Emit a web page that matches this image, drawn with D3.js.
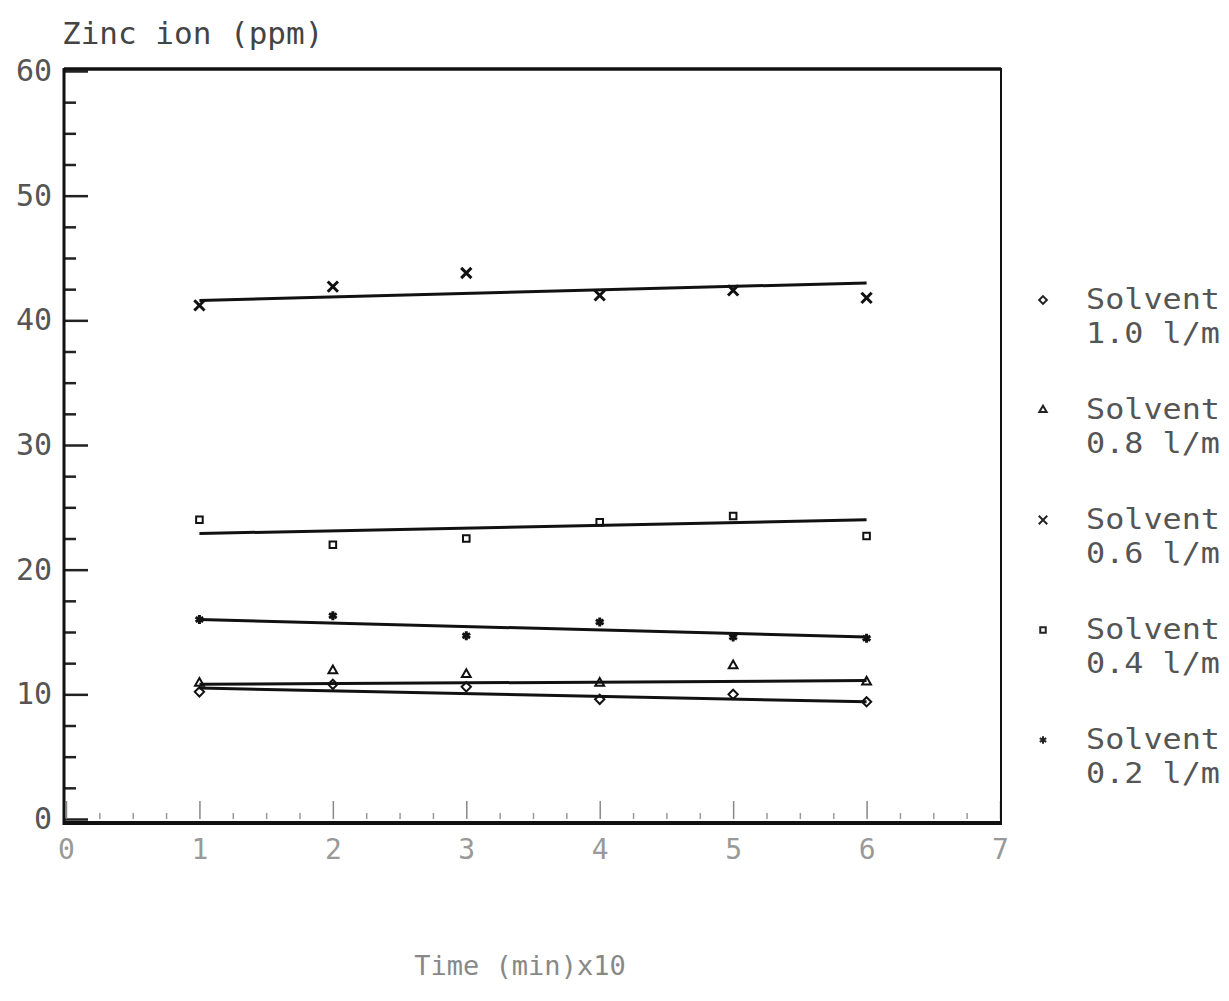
<!DOCTYPE html>
<html>
<head>
<meta charset="utf-8">
<script src="https://cdn.jsdelivr.net/npm/d3@7"></script>
<style>
  body { margin: 0; background: #fff; }
  text { font-family: "DejaVu Sans Mono", monospace; }
</style>
</head>
<body>
<div id="container"></div>
<script>
"use strict";

// Values (Time in min x10, Zinc ion in ppm).
const times = [1, 2, 3, 4, 5, 6];
const solvent10 = [10.2, 10.8, 10.6, 9.6, 10.0, 9.4];
const solvent08 = [10.9, 11.9, 11.6, 10.9, 12.3, 11.0];
const solvent06 = [41.2, 42.7, 43.8, 42.0, 42.4, 41.8];
const solvent04 = [24.0, 22.0, 22.5, 23.8, 24.3, 22.7];
const solvent02 = [16.0, 16.3, 14.7, 15.8, 14.6, 14.5];

// Straight fitted lines, value at t = 1 and t = 6.
const fitTimes = [1, 6];
const fit10 = [10.5, 9.4];
const fit08 = [10.8, 11.1];
const fit06 = [41.6, 43.0];
const fit04 = [22.9, 24.0];
const fit02 = [16.0, 14.6];

const seriesNames = ["1.0 l/m", "0.8 l/m", "0.6 l/m", "0.4 l/m", "0.2 l/m"];
const xTicks = [0, 1, 2, 3, 4, 5, 6, 7];
const yTicks = [0, 10, 20, 30, 40, 50, 60];

const layout = { width: 1229, height: 1001, left: 66, right: 1000, top: 71, bottom: 819 };

const series = [
  { name: seriesNames[0], values: solvent10, fit: fit10, symbol: d3.symbolDiamond2 || d3.symbolDiamond, size: 55 },
  { name: seriesNames[1], values: solvent08, fit: fit08, symbol: d3.symbolTriangle2 || d3.symbolTriangle, size: 55 },
  { name: seriesNames[2], values: solvent06, fit: fit06, symbol: d3.symbolTimes || d3.symbolCross, size: 70, bold: true },
  { name: seriesNames[3], values: solvent04, fit: fit04, symbol: d3.symbolSquare2 || d3.symbolSquare, size: 55 },
  { name: seriesNames[4], values: solvent02, fit: fit02, symbol: d3.symbolAsterisk || d3.symbolStar, size: 55, bold: true },
];

const x = d3.scaleLinear().domain([0, 7]).range([layout.left, layout.right]);
const y = d3.scaleLinear().domain([0, 60]).range([layout.bottom, layout.top]);

const svg = d3.create("svg").attr("width", layout.width).attr("height", layout.height);

// Minor ticks.
const yMinor = d3.range(0, 60.01, 2.5).filter((v) => v % 10 !== 0);
svg.append("g")
  .attr("transform", `translate(${x(0) - 2}, 0)`)
  .call(d3.axisLeft(y).tickValues(yMinor).tickSize(-12).tickFormat(""))
  .call((g) => g.select(".domain").remove())
  .call((g) => g.selectAll("line").attr("stroke", "#222").attr("stroke-width", 2.5));

const xMinor = d3.range(0, 7.01, 0.25).filter((v) => v % 1 !== 0);
svg.append("g")
  .attr("transform", `translate(0, ${y(0)})`)
  .call(d3.axisBottom(x).tickValues(xMinor).tickSize(-6).tickFormat(""))
  .call((g) => g.select(".domain").remove())
  .call((g) => g.selectAll("line").attr("stroke", "#999").attr("stroke-width", 1.5));

// Major ticks and labels.
svg.append("g")
  .attr("transform", `translate(${x(0) - 2}, 0)`)
  .call(d3.axisLeft(y).tickValues(yTicks).tickSize(-24).tickPadding(12).tickFormat(d3.format("d")))
  .call((g) => g.select(".domain").remove())
  .call((g) => g.selectAll("line").attr("stroke", "#222").attr("stroke-width", 2.5))
  .call((g) => g.selectAll("text").attr("fill", "#555").style("font-size", "30px")
    .style("font-family", "'DejaVu Sans Mono', monospace"));

svg.append("g")
  .attr("transform", `translate(0, ${y(0)})`)
  .call(d3.axisBottom(x).tickValues(xTicks).tickSize(-18).tickPadding(20).tickFormat(d3.format("d")))
  .call((g) => g.select(".domain").remove())
  .call((g) => g.selectAll("line").attr("stroke", "#888").attr("stroke-width", 1.5))
  .call((g) => g.selectAll("text").attr("fill", "#999").style("font-size", "28px")
    .style("font-family", "'DejaVu Sans Mono', monospace"));

// Frame.
const frame = svg.append("g").attr("stroke", "#111").attr("fill", "none");
frame.append("line").attr("x1", x(0) - 2).attr("x2", x(7) + 1).attr("y1", y(60) - 2).attr("y2", y(60) - 2).attr("stroke-width", 3.5);
frame.append("line").attr("x1", x(0) - 2).attr("x2", x(0) - 2).attr("y1", y(60) - 3).attr("y2", y(0) + 6).attr("stroke-width", 3);
frame.append("line").attr("x1", x(7) + 1).attr("x2", x(7) + 1).attr("y1", y(60) - 3).attr("y2", y(0) + 6).attr("stroke-width", 2);
frame.append("line").attr("x1", x(0) - 3).attr("x2", x(7) + 2).attr("y1", y(0) + 4).attr("y2", y(0) + 4).attr("stroke-width", 4);

// Fitted lines.
const line = d3.line().x((d) => x(d[0])).y((d) => y(d[1]));
svg.append("g")
  .selectAll("path")
  .data(series)
  .join("path")
  .attr("fill", "none")
  .attr("stroke", "#111")
  .attr("stroke-width", 3)
  .attr("d", (s) => line(fitTimes.map((t, i) => [t, s.fit[i]])));

// Data markers.
series.forEach((s) => {
  svg.append("g")
    .selectAll("path")
    .data(times.map((t, i) => [t, s.values[i]]))
    .join("path")
    .attr("transform", (d) => `translate(${x(d[0])}, ${y(d[1])})`)
    .attr("d", d3.symbol(s.symbol, s.size))
    .attr("fill", "none")
    .attr("stroke", "#111")
    .attr("stroke-width", s.bold ? 3 : 2);
});

// Axis titles.
svg.append("text")
  .attr("x", 62).attr("y", 44)
  .attr("fill", "#444")
  .style("font-size", "31px")
  .text("Zinc ion (ppm)");

svg.append("text")
  .attr("x", 520).attr("y", 975)
  .attr("text-anchor", "middle")
  .attr("fill", "#888")
  .style("font-size", "27px")
  .text("Time (min)x10");

// Legend.
const legend = svg.append("g")
  .selectAll("g")
  .data(series)
  .join("g")
  .attr("transform", (d, i) => `translate(1043, ${300 + i * 110})`);

legend.append("path")
  .attr("d", (s) => d3.symbol(s.symbol, s.size * 0.7)())
  .attr("fill", "none")
  .attr("stroke", "#222")
  .attr("stroke-width", 2);

legend.append("text")
  .attr("x", 43).attr("y", 9)
  .attr("fill", "#555")
  .attr("textLength", 134)
  .attr("lengthAdjust", "spacingAndGlyphs")
  .style("font-size", "28px")
  .text("Solvent");

legend.append("text")
  .attr("x", 43).attr("y", 43)
  .attr("fill", "#555")
  .attr("textLength", 134)
  .attr("lengthAdjust", "spacingAndGlyphs")
  .style("font-size", "28px")
  .text((s) => s.name);

d3.select("#container").append(() => svg.node());
</script>
</body>
</html>
